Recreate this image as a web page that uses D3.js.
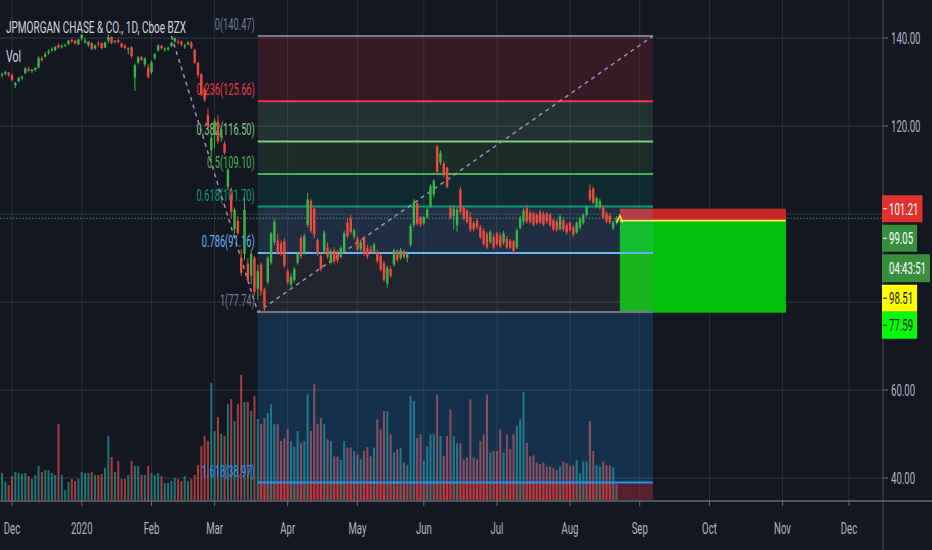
<!DOCTYPE html>
<html><head><meta charset="utf-8">
<script src="https://cdn.jsdelivr.net/npm/d3@7"></script>
<style>html,body{margin:0;padding:0;background:#131722;overflow:hidden}svg{display:block}</style>
</head><body>
<svg id="c" width="932" height="550"></svg>
<script>
// ---------------- DATA ----------------
const title = "JPMORGAN CHASE & CO., 1D, Cboe BZX";
const dates = [
"2019-11-26","2019-11-27","2019-11-29",
"2019-12-02","2019-12-03","2019-12-04","2019-12-05","2019-12-06","2019-12-09","2019-12-10","2019-12-11","2019-12-12","2019-12-13","2019-12-16","2019-12-17","2019-12-18","2019-12-19","2019-12-20","2019-12-23","2019-12-24","2019-12-26","2019-12-27","2019-12-30","2019-12-31",
"2020-01-02","2020-01-03","2020-01-06","2020-01-07","2020-01-08","2020-01-09","2020-01-10","2020-01-13","2020-01-14","2020-01-15","2020-01-16","2020-01-17","2020-01-21","2020-01-22","2020-01-23","2020-01-24","2020-01-27","2020-01-28","2020-01-29","2020-01-30","2020-01-31",
"2020-02-03","2020-02-04","2020-02-05","2020-02-06","2020-02-07","2020-02-10","2020-02-11","2020-02-12","2020-02-13","2020-02-14","2020-02-18","2020-02-19","2020-02-20","2020-02-21","2020-02-24","2020-02-25","2020-02-26","2020-02-27","2020-02-28",
"2020-03-02","2020-03-03","2020-03-04","2020-03-05","2020-03-06","2020-03-09","2020-03-10","2020-03-11","2020-03-12","2020-03-13","2020-03-16","2020-03-17","2020-03-18","2020-03-19","2020-03-20","2020-03-23","2020-03-24","2020-03-25","2020-03-26","2020-03-27","2020-03-30","2020-03-31",
"2020-04-01","2020-04-02","2020-04-03","2020-04-06","2020-04-07","2020-04-08","2020-04-09","2020-04-13","2020-04-14","2020-04-15","2020-04-16","2020-04-17","2020-04-20","2020-04-21","2020-04-22","2020-04-23","2020-04-24","2020-04-27","2020-04-28","2020-04-29","2020-04-30",
"2020-05-01","2020-05-04","2020-05-05","2020-05-06","2020-05-07","2020-05-08","2020-05-11","2020-05-12","2020-05-13","2020-05-14","2020-05-15","2020-05-18","2020-05-19","2020-05-20","2020-05-21","2020-05-22","2020-05-26","2020-05-27","2020-05-28","2020-05-29",
"2020-06-01","2020-06-02","2020-06-03","2020-06-04","2020-06-05","2020-06-08","2020-06-09","2020-06-10","2020-06-11","2020-06-12","2020-06-15","2020-06-16","2020-06-17","2020-06-18","2020-06-19","2020-06-22","2020-06-23","2020-06-24","2020-06-25","2020-06-26","2020-06-29","2020-06-30",
"2020-07-01","2020-07-02","2020-07-06","2020-07-07","2020-07-08","2020-07-09","2020-07-10","2020-07-13","2020-07-14","2020-07-15","2020-07-16","2020-07-17","2020-07-20","2020-07-21","2020-07-22","2020-07-23","2020-07-24","2020-07-27","2020-07-28","2020-07-29","2020-07-30","2020-07-31",
"2020-08-03","2020-08-04","2020-08-05","2020-08-06","2020-08-07","2020-08-10","2020-08-11","2020-08-12","2020-08-13","2020-08-14","2020-08-17","2020-08-18","2020-08-19","2020-08-20","2020-08-21"
];
const opens = [
131.5,131.9,132.1, 131.6,129.3,130.2,130.9,132.0,133.0,132.5,132.8,133.3,135.4,135.8,136.6,137.2,137.3,138.4,138.0,138.3,138.6,139.6,139.4,138.6,
139.9,139.0,138.4,138.9,137.6,138.8,138.8,137.9,139.4,140.2,139.2,139.5,138.8,138.3,137.3,137.9,131.0,134.5,135.6,134.0,133.3,
132.2,135.4,137.2,138.2,137.4,137.4,138.2,139.2,139.2,139.2,138.1,138.6,138.9,137.3,134.4,131.8,128.5,122.5,114.5,
118.0,121.0,117.5,116.0,106.2,104.5,96.6,98.5,90.0,91.0,88.8,86.0,90.0,83.0,88.5,82.8,84.5,89.0,93.6,94.0,93.3,93.8,
87.0,84.0,85.0,89.0,94.5,91.4,97.5,103.0,101.2,94.0,90.5,91.5,92.4,89.0,91.7,91.0,90.3,91.6,98.0,99.0,94.9,
94.5,92.0,94.5,92.3,92.0,91.5,91.3,90.5,88.8,84.2,87.5,88.5,91.6,90.0,91.6,90.0,93.0,97.5,102.5,99.2,
97.9,99.3,101.8,104.5,115.3,111.8,111.5,110.5,101.5,99.5,97.5,105.5,101.5,100.8,99.3,98.0,98.5,97.0,96.2,95.5,93.6,94.8,
95.6,95.1,93.5,94.4,93.9,93.8,92.4,96.9,98.3,101.3,100.3,100.1,99.8,100.4,100.0,100.1,99.8,98.6,98.3,96.6,98.6,97.5,
98.0,97.0,95.8,96.9,98.0,99.8,105.5,105.8,101.7,101.5,101.5,100.1,99.7,96.9,98.2
];
const highs = [
132.2,132.6,132.3, 131.9,130.0,131.2,131.5,133.4,133.5,133.0,133.4,135.8,135.9,136.8,137.4,137.9,138.2,138.8,138.6,138.7,139.6,139.9,139.6,139.8,
140.9,140.0,139.3,139.0,138.6,139.3,139.0,139.2,140.9,140.4,139.6,139.9,139.0,138.6,137.9,138.2,134.2,135.9,136.0,135.6,134.0,
134.9,136.6,138.6,138.5,137.9,138.0,139.2,140.2,139.7,139.5,138.7,139.3,139.3,137.6,134.6,132.0,129.0,124.0,118.0,
121.8,122.5,119.8,116.6,110.5,106.0,101.5,99.5,92.0,103.7,90.0,92.0,90.5,88.5,89.0,83.3,90.5,96.0,98.8,95.5,94.0,94.5,
87.5,86.5,88.0,91.5,95.2,95.5,104.8,103.5,101.5,94.5,91.2,96.3,93.5,92.2,92.5,91.8,92.8,96.2,99.0,99.8,96.8,
95.0,94.2,95.0,93.0,92.8,93.5,92.0,91.0,89.3,88.3,88.2,92.2,92.0,92.3,92.0,91.5,97.8,103.4,103.0,99.6,
99.6,101.5,106.8,108.0,115.7,114.5,112.0,110.8,102.0,101.8,101.5,106.2,101.8,101.2,100.5,98.5,99.0,97.5,96.8,96.0,96.3,95.5,
96.0,95.8,96.2,95.0,94.4,94.2,96.8,99.6,101.3,102.0,100.8,100.5,100.2,101.0,100.6,100.5,100.2,99.0,98.8,99.9,99.2,98.0,
98.4,97.5,98.4,99.4,100.2,102.0,106.8,106.2,104.0,103.5,102.0,100.6,100.2,98.5,99.5
];
const lows = [
131.0,131.5,131.2, 130.2,128.6,129.9,130.4,131.8,132.4,132.0,132.4,133.1,134.6,135.5,136.2,136.9,137.0,137.6,137.6,138.0,138.4,138.9,138.5,138.4,
139.4,138.7,138.0,137.2,137.3,138.1,137.4,137.7,138.8,138.6,138.7,138.8,137.7,137.5,136.3,135.4,128.0,134.0,134.8,133.5,130.8,
131.8,135.1,136.9,137.4,136.9,137.0,138.0,139.0,138.6,138.2,137.6,138.3,137.5,134.0,131.0,126.8,125.5,119.5,113.0,
115.0,116.0,116.5,113.5,105.5,99.0,95.5,95.2,86.0,89.5,84.5,84.0,81.5,80.5,81.5,77.6,84.0,88.5,93.0,90.8,90.5,87.8,
84.0,83.3,84.5,88.5,89.8,90.8,97.0,95.7,94.5,90.5,87.0,91.0,89.8,88.5,88.8,88.9,90.0,91.2,94.5,95.4,94.3,
91.5,91.5,90.5,89.8,91.0,91.0,88.8,87.0,84.6,83.3,85.5,88.0,89.2,89.6,89.8,89.0,92.5,97.0,97.3,97.0,
97.5,98.9,101.3,103.8,109.2,111.2,108.3,105.8,98.8,96.5,96.0,100.0,98.6,97.8,96.0,96.0,96.5,94.3,92.8,92.0,93.2,92.0,
92.8,92.2,93.0,92.0,92.0,91.1,92.0,96.5,97.5,97.8,97.8,97.2,97.6,97.8,97.3,97.8,97.0,96.1,96.0,96.2,96.0,95.3,
96.0,94.8,95.5,96.5,97.6,99.4,102.8,102.2,101.3,101.0,98.8,97.9,97.7,96.4,97.6
];
const closes = [
131.8,132.3,131.6, 130.5,129.8,130.9,131.2,133.1,132.6,132.8,133.2,135.5,135.0,136.4,137.0,137.5,138.0,137.9,138.2,138.5,139.4,139.3,138.8,139.7,
140.7,139.4,139.2,137.5,138.3,138.6,137.7,139.0,140.2,138.9,139.4,139.1,138.0,137.7,137.6,135.9,133.8,135.6,135.0,135.4,131.2,
134.5,136.3,138.3,137.7,137.6,137.8,138.9,139.9,139.1,138.5,138.3,139.0,137.9,134.4,131.6,127.3,126.0,120.0,117.3,
121.2,116.6,119.3,113.9,110.0,100.5,101.0,95.7,86.7,101.0,85.0,91.0,82.3,87.0,82.5,79.0,90.0,95.5,98.2,91.2,91.0,88.3,
84.5,85.8,87.5,91.0,90.4,95.0,103.3,96.2,95.4,91.0,87.5,95.8,90.3,91.6,89.3,89.5,92.3,95.6,95.0,95.9,96.3,
92.0,93.6,91.0,90.3,91.4,93.0,89.3,87.4,85.1,87.8,86.0,91.8,89.6,91.8,90.2,91.0,97.3,102.8,97.8,97.6,
99.3,101.0,106.3,107.5,109.6,113.8,108.8,106.2,99.2,101.2,101.0,100.5,99.0,98.2,96.5,96.6,97.0,94.7,93.2,92.4,96.0,92.4,
93.1,92.6,95.6,92.4,92.4,91.5,96.3,99.0,100.8,98.3,98.2,97.6,98.0,98.1,97.6,98.3,97.4,96.5,96.4,99.5,96.5,95.8,
96.4,95.3,98.0,99.0,99.8,101.6,103.3,102.6,103.6,103.0,99.2,98.3,98.1,98.1,99.05
];
// volume, millions
const volumes = [
10.8,7.2,6.0,9.6,11.2,10.8,10.4,10.8,9.6,8.4,
10.0,13.6,11.2,12.0,12.0,10.8,10.0,30.4,10.0,4.0,
7.2,8.4,7.6,8.4,11.2,10.8,10.8,11.2,10.0,10.0,
10.4,12.8,25.6,17.2,11.2,15.6,8.4,8.4,10.0,15.6,
13.6,13.6,10.0,10.0,13.6,10.8,10.0,10.8,9.6,6.8,
6.8,7.6,8.8,8.4,7.6,9.6,7.6,8.4,10.0,14.0,
21.6,25.6,23.6,46.8,27.6,33.2,26.4,25.6,38.4,40.4,
31.6,38.4,50.0,39.2,39.2,35.6,41.6,32.4,
30.3,32.8,34.8,38.3,30.3,30.3,23.6,24.8,28.3,23.6,
21.4,27.6,22.8,23.6,42.3,27.6,46.3,30.3,32.8,30.3,
24.3,23.6,17.4,17.4,16.0,23.6,21.0,21.0,19.6,18.3,
16.3,19.6,21.2,17.4,21.0,32.3,28.3,35.6,35.6,26.3,
19.0,20.3,20.7,15.0,13.9,41.6,39.6,24.8,26.3,15.6,
21.4,26.3,26.3,42.3,25.6,17.6,25.6,36.3,25.6,22.7,
22.7,16.3,17.0,40.3,17.0,16.3,23.6,26.3,42.3,19.0,
19.6,19.6,28.3,19.0,26.3,20.3,26.3,29.6,32.3,43.2,
22.8,17.4,17.9,15.0,14.3,15.0,13.4,13.4,12.8,12.0,
13.4,15.4,14.7,13.4,13.9,16.0,10.7,15.4,15.4,31.6,
19.6,13.9,13.4,15.4,13.9,13.9,13.0,6.3
];
// time axis: label and bar index of first session of month (future months on the session calendar)
const monthLabels = ["Dec","2020","Feb","Mar","Apr","May","Jun","Jul","Aug","Sep","Oct","Nov","Dec"];
const monthIndex  = [3,24,45,64,86,107,127,149,171,192,213,235,255];
const priceGrid = [140,120,100,80,60,40];
const priceLabels = [140,120,60,40];
// fibonacci retracement
const fibRatios = [0,0.236,0.382,0.5,0.618,0.786,1,1.618];
const fibPrices = [140.47,125.66,116.50,109.10,101.70,91.16,77.74,38.97];
const fibColors = ["#787b86","#f23645","#81c784","#4caf50","#089981","#64b5f6","#787b86","#2196f3"];
const fibBeyondColor = "#f23645";
const fibStartIdx = 77, fibEndIdx = 196, fibTrendStartIdx = 51;
// short position tool
const posStop = 101.21, posEntry = 98.51, posTarget = 77.59;
const posStartIdx = 186, posEndIdx = 236;
const countdown = "04:43:51";

// ---------------- CHART ----------------
const W = 932, H = 550, plotR = 883, plotB = 501;
const svg = d3.select("#c");
const n = Math.min(dates.length, opens.length, highs.length, lows.length, closes.length, volumes.length);
const x = d3.scaleLinear().domain([3,255]).range([12,849]);
const y = d3.scaleLinear().domain([140.47,77.74]).range([36,312]);
const yVol = d3.scaleLinear().domain([0,50]).range([500,375]);
const SX = 0.6;
const FONT = "Roboto, 'Noto Sans', 'DejaVu Sans', sans-serif";
function txt(g, x0, y0, s, o={}) {
  return g.append("text")
    .attr("transform", `translate(${x0},${y0}) scale(${o.sx||SX},1)`)
    .attr("text-anchor", o.anchor||"start")
    .attr("font-family", FONT).attr("font-size", o.size||16)
    .attr("fill", o.fill||"#b2b5be").text(s);
}

svg.append("rect").attr("width",W).attr("height",H).attr("fill","#131722");

// grid
const grid = svg.append("g").attr("stroke","#2a2e39").attr("stroke-width",1);
grid.selectAll(".h").data(priceGrid).join("line").attr("class","h")
  .attr("x1",0).attr("x2",plotR).attr("y1",d=>y(d)).attr("y2",d=>y(d)).attr("stroke","#333744");
grid.selectAll(".v").data(monthIndex).join("line").attr("class","v")
  .attr("x1",d=>x(d)).attr("x2",d=>x(d)).attr("y1",0).attr("y2",plotB).attr("stroke","#2a2e39");

const idx = d3.range(n);
const up = i => closes[i] >= opens[i];

// volume
svg.append("g").selectAll("rect").data(idx).join("rect")
  .attr("x",i=>x(i)-1).attr("width",2)
  .attr("y",i=>yVol(volumes[i])).attr("height",i=>yVol(0)-yVol(volumes[i]))
  .attr("fill",i=>up(i)?"#26a69a":"#ef5350").attr("opacity",0.65);

// last price dotted line
const last = closes[n-1];
svg.append("line").attr("x1",0).attr("x2",plotR).attr("y1",y(last)).attr("y2",y(last))
  .attr("stroke","#4caf50").attr("stroke-width",1.2).attr("stroke-dasharray","1.2,2");

// position tool
const px0 = x(posStartIdx), px1 = x(posEndIdx);
const pos = svg.append("g");
pos.append("rect").attr("x",px0).attr("width",px1-px0).attr("y",y(posStop)).attr("height",y(posEntry)-y(posStop)).attr("fill","#c62828");
pos.append("rect").attr("x",px0).attr("width",px1-px0).attr("y",y(posEntry)).attr("height",y(posTarget)-y(posEntry)).attr("fill","#06bf0c");
pos.append("line").attr("x1",px0).attr("x2",px1).attr("y1",y(posEntry)).attr("y2",y(posEntry)).attr("stroke","#ffeb3b").attr("stroke-width",1.6);

// fib fills
const fx0 = x(fibStartIdx), fx1 = x(fibEndIdx);
const fib = svg.append("g");
for (let k = 0; k < fibPrices.length-1; k++) {
  fib.append("rect").attr("x",fx0).attr("width",fx1-fx0)
    .attr("y",y(fibPrices[k])).attr("height",y(fibPrices[k+1])-y(fibPrices[k]))
    .attr("fill",fibColors[k+1]).attr("opacity", k===6 ? 0.2 : 0.15);
}
fib.append("rect").attr("x",fx0).attr("width",fx1-fx0)
  .attr("y",y(fibPrices[fibPrices.length-1])).attr("height",yVol(0)-y(fibPrices[fibPrices.length-1]))
  .attr("fill",fibBeyondColor).attr("opacity",0.3);
fibPrices.forEach((p,k) => {
  fib.append("line").attr("x1",fx0).attr("x2",fx1).attr("y1",y(p)).attr("y2",y(p))
    .attr("stroke",fibColors[k]).attr("stroke-width",2);
  txt(fib, fx0-3, y(p)-6, `${fibRatios[k]}(${p.toFixed(2)})`, {anchor:"end", fill:fibColors[k], sx:0.58});
});
// trend lines (dashed)
const dash = svg.append("g").attr("stroke","#9598a1").attr("stroke-width",1.5).attr("stroke-dasharray","4,4").attr("fill","none");
dash.append("path").attr("d", d3.line()([[x(fibTrendStartIdx), y(fibPrices[0])],[fx0, y(fibPrices[6])],[fx1, y(fibPrices[0])]]));

// candles
const cg = svg.append("g");
cg.selectAll("line").data(idx).join("line")
  .attr("x1",i=>x(i)).attr("x2",i=>x(i))
  .attr("y1",i=>y(Math.max(highs[i],opens[i],closes[i]))).attr("y2",i=>y(Math.min(lows[i],opens[i],closes[i])))
  .attr("stroke",i=>up(i)?"#3cb44b":"#ef4b3f").attr("stroke-width",1);
cg.selectAll("rect").data(idx).join("rect")
  .attr("x",i=>x(i)-1.2).attr("width",2.4)
  .attr("y",i=>y(Math.max(opens[i],closes[i])))
  .attr("height",i=>Math.max(1, y(Math.min(opens[i],closes[i]))-y(Math.max(opens[i],closes[i]))))
  .attr("fill",i=>up(i)?"#3cb44b":"#ef4b3f");

// entry marker
const ey = y(posEntry);
svg.append("path").attr("d", d3.line()([[px0-3,ey+2],[px0,ey-5],[px0+3,ey+2]]))
  .attr("fill","none").attr("stroke","#ffeb3b").attr("stroke-width",1.4);

// legend
txt(svg, 6, 33, title, {size:17, fill:"#d1d4dc", sx:0.59});
txt(svg, 6, 62, "Vol", {size:17, fill:"#d1d4dc", sx:0.62});

// axes
svg.append("line").attr("x1",plotR).attr("x2",plotR).attr("y1",0).attr("y2",H).attr("stroke","#4a4e59");
svg.append("line").attr("x1",0).attr("x2",W).attr("y1",plotB).attr("y2",plotB).attr("stroke","#6a6d78").attr("stroke-width",1.5);
const xa = svg.append("g");
monthIndex.forEach((mi,k) => {
  xa.append("line").attr("x1",x(mi)).attr("x2",x(mi)).attr("y1",plotB).attr("y2",plotB+5).attr("stroke","#6a6d78");
  txt(xa, x(mi), 534, monthLabels[k], {anchor:"middle"});
});
const ya = svg.append("g");
priceLabels.forEach(p => {
  ya.append("line").attr("x1",plotR).attr("x2",plotR+5).attr("y1",y(p)).attr("y2",y(p)).attr("stroke","#6a6d78");
  txt(ya, plotR+8, y(p)+6, p.toFixed(2));
});

// price tags (stacked like the price scale does)
const tags = [
  {t: posStop.toFixed(2), v: posStop, bg:"#e0312e", fg:"#ffffff", h:27},
  {t: last.toFixed(2), v: last, bg:"#388e3c", fg:"#ffffff", h:27},
  {t: countdown, v: last, bg:"#388e3c", fg:"#ffffff", h:28},
  {t: posEntry.toFixed(2), v: posEntry, bg:"#ffff00", fg:"#131722", h:27},
  {t: posTarget.toFixed(2), v: posTarget, bg:"#00ff00", fg:"#131722", h:27}
];
let prevBottom = -Infinity;
const tg = svg.append("g");
tags.forEach((tag,k) => {
  const top = Math.max(y(tag.v) - tag.h/2, prevBottom + (k===4 ? 0 : 2.5));
  prevBottom = top + tag.h;
  const gg = tg.append("g");
  const rect = gg.append("rect").attr("x",plotR-1).attr("y",top).attr("height",tag.h).attr("fill",tag.bg);
  const t = txt(gg, plotR+6, top+tag.h/2+6, tag.t, {fill:tag.fg});
  const w = t.node().getComputedTextLength()*SX + 11;
  rect.attr("width", w);
  if (k !== 2) gg.append("line").attr("x1",plotR).attr("x2",plotR+4).attr("y1",top+tag.h/2).attr("y2",top+tag.h/2).attr("stroke",tag.fg);
});
</script>
</body></html>
